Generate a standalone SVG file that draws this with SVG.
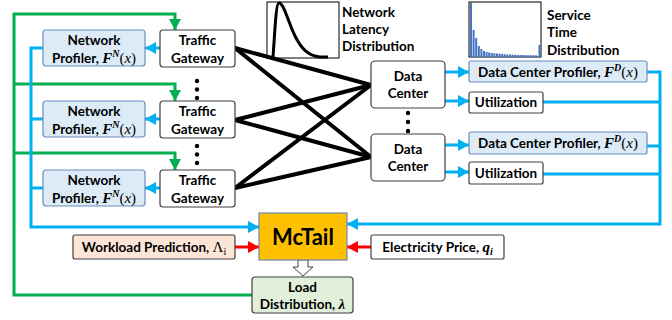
<svg xmlns="http://www.w3.org/2000/svg" width="672" height="320" viewBox="0 0 672 320">
<defs>
<style>
.t{font-family:Lato,"Liberation Sans",sans-serif;font-weight:bold;font-size:13.5px;fill:#000}
.m{font-family:"Liberation Serif",serif;font-weight:bold;font-style:italic;font-size:15px}
.mx{font-family:"Liberation Serif",serif;font-weight:normal;font-style:italic;font-size:15px}
.mu{font-family:"Liberation Serif",serif;font-style:normal;font-weight:normal;font-size:15px}
.sup{font-family:"Liberation Serif",serif;font-weight:bold;font-style:italic;font-size:10px}
.prof{fill:#DDEBF7;stroke:#6C8EBF;stroke-width:1.2}
.wb{fill:#fff;stroke:#404040;stroke-width:1.2}
.g{fill:none;stroke:#00B050;stroke-width:3}
.b{fill:none;stroke:#00B0F0;stroke-width:3}
.r{fill:none;stroke:#FF0000;stroke-width:3}
.k{stroke:#000;stroke-width:4;stroke-linecap:round}
.dot{fill:#000}
.bar{fill:#4472C4}
</style>
<marker id="ag" markerUnits="userSpaceOnUse" markerWidth="12" markerHeight="12" refX="11" refY="6" orient="auto"><path d="M0,0 L11,6 L0,12 z" fill="#00B050"/></marker>
<marker id="ab" markerUnits="userSpaceOnUse" markerWidth="12" markerHeight="12" refX="11" refY="6" orient="auto"><path d="M0,0 L11,6 L0,12 z" fill="#00B0F0"/></marker>
<marker id="ar" markerUnits="userSpaceOnUse" markerWidth="12" markerHeight="12" refX="11" refY="6" orient="auto"><path d="M0,0 L11,6 L0,12 z" fill="#FF0000"/></marker>
</defs>
<rect width="672" height="320" fill="#fff"/>

<!-- charts -->
<g id="latency-chart">
<rect x="267" y="2" width="72" height="56" fill="#fff" stroke="#000" stroke-width="1"/>
<path d="M273,57 C275,30 276,3 279,3 C284,3 288,22 295,36 C301,48 308,56 320,57 L328,57" fill="none" stroke="#000" stroke-width="3"/>
<text class="t" x="342" y="17">Network</text>
<text class="t" x="342" y="34">Latency</text>
<text class="t" x="342" y="51">Distribution</text>
</g>
<g id="service-chart">
<rect x="469" y="2" width="72" height="55" fill="#fff" stroke="#000" stroke-width="1"/>
<rect class="bar" x="470" y="3" width="2" height="54"/>
<rect class="bar" x="472.6" y="30" width="2" height="27"/>
<rect class="bar" x="475.2" y="38" width="2" height="19"/>
<rect class="bar" x="477.8" y="46" width="2" height="11"/>
<rect class="bar" x="480.4" y="49" width="2" height="8"/>
<rect class="bar" x="483" y="51" width="2" height="6"/>
<rect class="bar" x="485.6" y="52" width="2" height="5"/>
<rect class="bar" x="488.2" y="52.5" width="2" height="4.5"/>
<rect class="bar" x="490.8" y="53" width="2" height="4"/>
<rect class="bar" x="493.4" y="53.2" width="2" height="3.8"/>
<rect class="bar" x="496" y="53.5" width="2" height="3.5"/>
<rect class="bar" x="498.6" y="53.7" width="2" height="3.3"/>
<rect class="bar" x="501.2" y="54" width="2" height="3"/>
<rect class="bar" x="503.8" y="54.2" width="2" height="2.8"/>
<rect class="bar" x="506.4" y="54.4" width="2" height="2.6"/>
<rect class="bar" x="509" y="54.5" width="2" height="2.5"/>
<rect class="bar" x="511.6" y="54.6" width="2" height="2.4"/>
<rect class="bar" x="514.2" y="54.8" width="2" height="2.2"/>
<rect class="bar" x="516.8" y="54.9" width="2" height="2.1"/>
<rect class="bar" x="519.4" y="55" width="2" height="2"/>
<rect class="bar" x="522" y="55" width="2" height="2"/>
<rect class="bar" x="524.6" y="55.1" width="2" height="1.9"/>
<rect class="bar" x="527.2" y="55.2" width="2" height="1.8"/>
<rect class="bar" x="529.8" y="55.2" width="2" height="1.8"/>
<rect class="bar" x="532.4" y="55.3" width="2" height="1.7"/>
<rect class="bar" x="535" y="55.3" width="2" height="1.7"/>
<rect class="bar" x="538.5" y="45" width="2" height="12"/>
<text class="t" x="547" y="20">Service</text>
<text class="t" x="547" y="37">Time</text>
<text class="t" x="547" y="55">Distribution</text>
</g>

<!-- connectors -->
<g id="connectors">
<path class="g" d="M252,295 H14 V14 H175 V30" marker-end="url(#ag)"/>
<path class="g" d="M14,84 H175 V101" marker-end="url(#ag)"/>
<path class="g" d="M14,153 H175 V170" marker-end="url(#ag)"/>

<path class="b" d="M160,48 H145" marker-end="url(#ab)"/>
<path class="b" d="M160,119 H145" marker-end="url(#ab)"/>
<path class="b" d="M160,188 H145" marker-end="url(#ab)"/>
<path class="b" d="M43,48 H31 V227 H259" marker-end="url(#ab)"/>
<path class="b" d="M43,119 H31"/>
<path class="b" d="M43,188 H31"/>

<path class="b" d="M445,72 H469" marker-end="url(#ab)"/>
<path class="b" d="M445,101 H469" marker-end="url(#ab)"/>
<path class="b" d="M445,145 H469" marker-end="url(#ab)"/>
<path class="b" d="M445,172 H469" marker-end="url(#ab)"/>
<path class="b" d="M647,72 H660 V224 H347" marker-end="url(#ab)"/>
<path class="b" d="M543,102 H660"/>
<path class="b" d="M647,146 H660"/>
<path class="b" d="M543,174 H660"/>

<path class="r" d="M235,247 H259" marker-end="url(#ar)"/>
<path class="r" d="M371,247 H347" marker-end="url(#ar)"/>

<line class="k" x1="235" y1="48" x2="371" y2="85"/>
<line class="k" x1="235" y1="48" x2="371" y2="157"/>
<line class="k" x1="235" y1="120" x2="371" y2="85"/>
<line class="k" x1="235" y1="120" x2="371" y2="157"/>
<line class="k" x1="235" y1="188" x2="371" y2="85"/>
<line class="k" x1="235" y1="188" x2="371" y2="157"/>

<polygon points="298,260 308,260 308,267 313,267 303,276 293,267 298,267" fill="#fff" stroke="#404040" stroke-width="1"/>
</g>

<!-- network profilers -->
<g id="net-profiler-1">
<rect class="prof" x="43" y="30" width="102" height="36" rx="3"/>
<text class="t" x="94" y="45" text-anchor="middle">Network</text>
<text class="t" x="94" y="63" text-anchor="middle">Profiler, <tspan class="m">F</tspan><tspan class="sup" dy="-6">N</tspan><tspan class="mu" dy="6">(</tspan><tspan class="mx">x</tspan><tspan class="mu">)</tspan></text>
</g>
<g id="net-profiler-2">
<rect class="prof" x="43" y="101" width="102" height="36" rx="3"/>
<text class="t" x="94" y="116" text-anchor="middle">Network</text>
<text class="t" x="94" y="134" text-anchor="middle">Profiler, <tspan class="m">F</tspan><tspan class="sup" dy="-6">N</tspan><tspan class="mu" dy="6">(</tspan><tspan class="mx">x</tspan><tspan class="mu">)</tspan></text>
</g>
<g id="net-profiler-3">
<rect class="prof" x="43" y="170" width="102" height="36" rx="3"/>
<text class="t" x="94" y="185" text-anchor="middle">Network</text>
<text class="t" x="94" y="203" text-anchor="middle">Profiler, <tspan class="m">F</tspan><tspan class="sup" dy="-6">N</tspan><tspan class="mu" dy="6">(</tspan><tspan class="mx">x</tspan><tspan class="mu">)</tspan></text>
</g>

<!-- gateways -->
<g id="gateway-1">
<rect class="wb" x="160" y="30" width="75" height="37" rx="3"/>
<text class="t" x="197.5" y="45" text-anchor="middle">Traffic</text>
<text class="t" x="197.5" y="63" text-anchor="middle">Gateway</text>
</g>
<g id="gateway-2">
<rect class="wb" x="160" y="101" width="75" height="37" rx="3"/>
<text class="t" x="197.5" y="116" text-anchor="middle">Traffic</text>
<text class="t" x="197.5" y="134" text-anchor="middle">Gateway</text>
</g>
<g id="gateway-3">
<rect class="wb" x="160" y="170" width="75" height="37" rx="3"/>
<text class="t" x="197.5" y="185" text-anchor="middle">Traffic</text>
<text class="t" x="197.5" y="203" text-anchor="middle">Gateway</text>
</g>
<g id="gateway-dots">
<circle class="dot" cx="197" cy="81" r="2.2"/>
<circle class="dot" cx="197" cy="89.5" r="2.2"/>
<circle class="dot" cx="197" cy="98" r="2.2"/>
<circle class="dot" cx="197" cy="146" r="2.2"/>
<circle class="dot" cx="197" cy="154.5" r="2.2"/>
<circle class="dot" cx="197" cy="163" r="2.2"/>
</g>

<!-- data centers -->
<g id="dc-1">
<rect class="wb" x="371" y="61" width="74" height="47" rx="4"/>
<text class="t" x="408" y="81" text-anchor="middle">Data</text>
<text class="t" x="408" y="98" text-anchor="middle">Center</text>
</g>
<g id="dc-2">
<rect class="wb" x="371" y="134" width="74" height="47" rx="4"/>
<text class="t" x="408" y="154" text-anchor="middle">Data</text>
<text class="t" x="408" y="171" text-anchor="middle">Center</text>
</g>
<g id="dc-dots">
<circle class="dot" cx="408" cy="113" r="2.2"/>
<circle class="dot" cx="408" cy="122" r="2.2"/>
<circle class="dot" cx="408" cy="131" r="2.2"/>
</g>

<g id="dc-profiler-1">
<rect class="prof" x="469" y="61" width="178" height="21" rx="2"/>
<text class="t" x="558" y="77" text-anchor="middle">Data Center Profiler, <tspan class="m">F</tspan><tspan class="sup" dy="-6">D</tspan><tspan class="mu" dy="6">(</tspan><tspan class="mx">x</tspan><tspan class="mu">)</tspan></text>
</g>
<g id="utilization-1">
<rect class="wb" x="469" y="92" width="74" height="21" rx="2"/>
<text class="t" x="506" y="107" text-anchor="middle">Utilization</text>
</g>
<g id="dc-profiler-2">
<rect class="prof" x="469" y="132" width="178" height="22" rx="2"/>
<text class="t" x="558" y="148" text-anchor="middle">Data Center Profiler, <tspan class="m">F</tspan><tspan class="sup" dy="-6">D</tspan><tspan class="mu" dy="6">(</tspan><tspan class="mx">x</tspan><tspan class="mu">)</tspan></text>
</g>
<g id="utilization-2">
<rect class="wb" x="469" y="162" width="74" height="22" rx="2"/>
<text class="t" x="506" y="178" text-anchor="middle">Utilization</text>
</g>

<!-- McTail and inputs -->
<g id="mctail">
<rect x="259" y="213" width="88" height="47" fill="#FFC000" stroke="#6E8BB5" stroke-width="1.2"/>
<text class="t" x="303" y="245" text-anchor="middle" style="font-size:22px">McTail</text>
</g>
<g id="workload-prediction">
<rect x="73" y="235" width="162" height="24" rx="2" fill="#FBE5D6" stroke="#404040" stroke-width="1.2"/>
<text class="t" x="154" y="252" text-anchor="middle">Workload Prediction, <tspan class="mu" font-weight="bold" style="font-size:15px">Λ</tspan><tspan class="mu" font-weight="bold" style="font-size:10px" dy="3">i</tspan></text>
</g>
<g id="electricity-price">
<rect class="wb" x="371" y="235" width="133" height="24" rx="2"/>
<text class="t" x="437.5" y="252" text-anchor="middle">Electricity Price, <tspan class="m">q</tspan><tspan class="sup" dy="3">i</tspan></text>
</g>
<g id="load-distribution">
<rect x="252" y="277" width="101" height="36" rx="3" fill="#E2EFDA" stroke="#404040" stroke-width="1.2"/>
<text class="t" x="302.5" y="292" text-anchor="middle">Load</text>
<text class="t" x="302.5" y="309" text-anchor="middle">Distribution, <tspan class="m">λ</tspan></text>
</g>
</svg>
